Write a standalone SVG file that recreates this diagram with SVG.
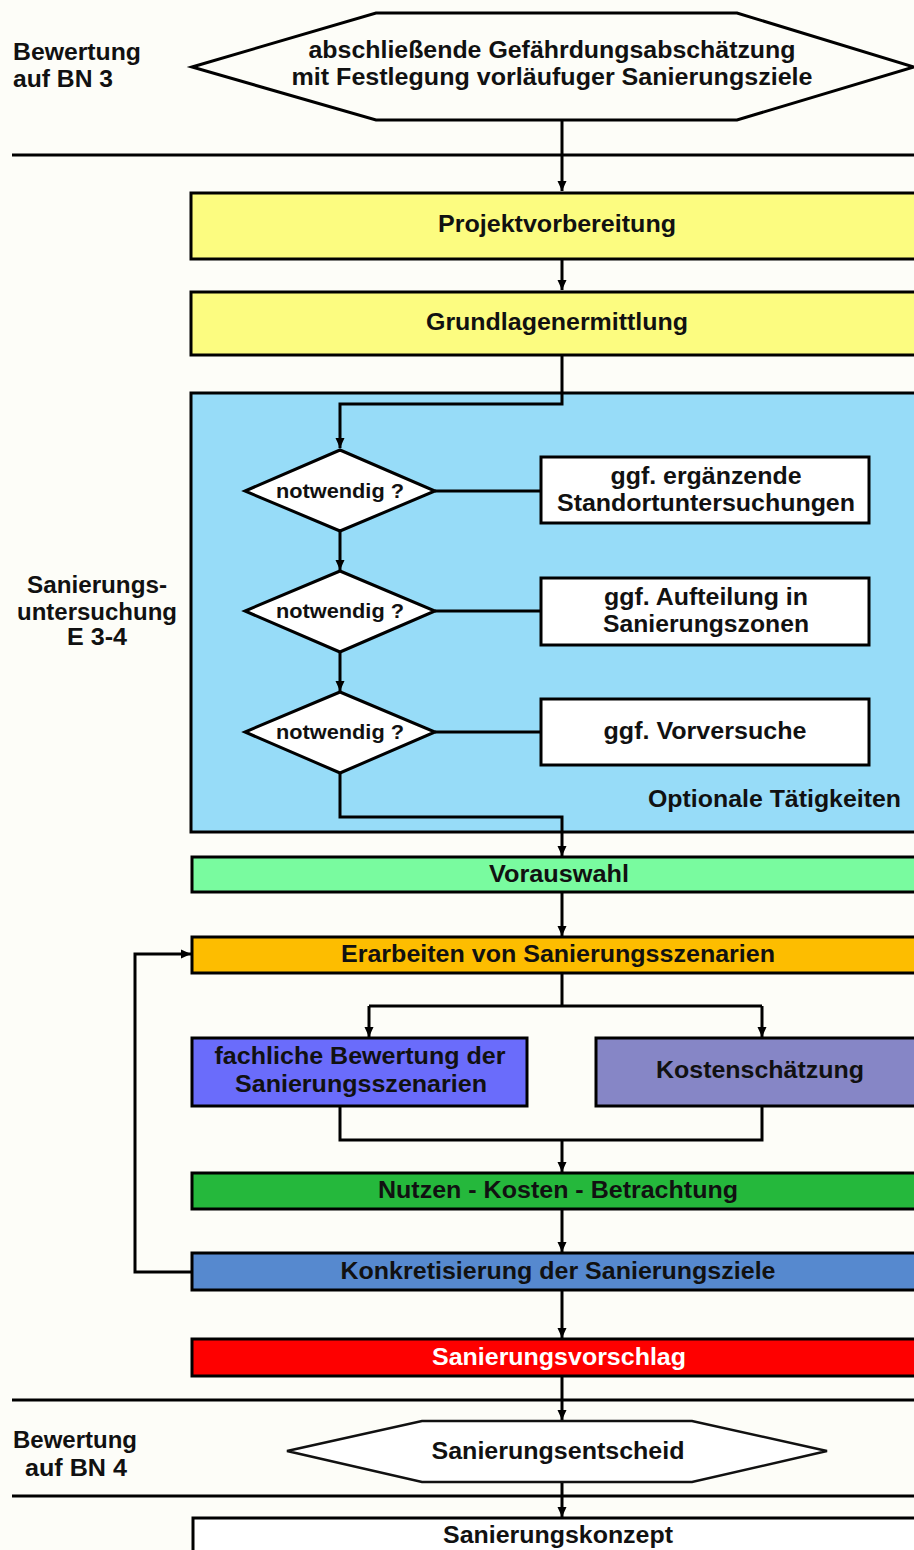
<svg xmlns="http://www.w3.org/2000/svg" width="914" height="1550" viewBox="0 0 914 1550">
  <defs>
    <marker id="arrow" markerUnits="userSpaceOnUse" markerWidth="11" markerHeight="10" refX="10" refY="5" orient="auto">
      <path d="M0,0.5 L10,5 L0,9.5 z" fill="#000"/>
    </marker>
    <style>
      text { font-family: "Liberation Sans", Arial, sans-serif; font-weight: bold; fill: #111; }
      .t { font-size: 23px; }
      .c { text-anchor: middle; }
      .q { font-size: 20px; }
      .box { stroke: #000; stroke-width: 3; }
      .sep { stroke: #000; stroke-width: 3; fill: none; }
      .conn { stroke: #000; stroke-width: 3; fill: none; }
    </style>
  </defs>

  <rect x="0" y="0" width="914" height="1550" fill="#fdfdf8"/>

  <!-- phase separators -->
  <g id="separators">
    <line class="sep" x1="12" y1="155" x2="914" y2="155"/>
    <line class="sep" x1="12" y1="1400" x2="914" y2="1400"/>
    <line class="sep" x1="12" y1="1496" x2="914" y2="1496"/>
  </g>

  <!-- phase labels -->
  <g id="label-bn3">
    <text class="t" x="13" y="60" textLength="128" lengthAdjust="spacingAndGlyphs">Bewertung</text>
    <text class="t" x="13" y="87" textLength="100" lengthAdjust="spacingAndGlyphs">auf BN 3</text>
  </g>
  <g id="label-e34">
    <text class="t c" x="97" y="593" textLength="140" lengthAdjust="spacingAndGlyphs">Sanierungs-</text>
    <text class="t c" x="97" y="620" textLength="160" lengthAdjust="spacingAndGlyphs">untersuchung</text>
    <text class="t c" x="97" y="645" textLength="60" lengthAdjust="spacingAndGlyphs">E 3-4</text>
  </g>
  <g id="label-bn4">
    <text class="t c" x="75" y="1448" textLength="124" lengthAdjust="spacingAndGlyphs">Bewertung</text>
    <text class="t c" x="76" y="1476" textLength="102" lengthAdjust="spacingAndGlyphs">auf BN 4</text>
  </g>

  <!-- optional activities panel -->
  <g id="panel-optional">
    <rect class="box" x="191" y="393" width="730" height="439" fill="#97dcf8"/>
    <text class="t" x="648" y="807" textLength="253" lengthAdjust="spacingAndGlyphs">Optionale Tätigkeiten</text>
  </g>

  <!-- connectors -->
  <g id="connectors" class="conn">
    <path d="M562,120 V191" marker-end="url(#arrow)"/>
    <path d="M562,259 V290" marker-end="url(#arrow)"/>
    <path d="M562,355 V404 H340 V448" marker-end="url(#arrow)"/>
    <path d="M435,491 H541"/>
    <path d="M435,611 H541"/>
    <path d="M435,732 H541"/>
    <path d="M340,531 V570" marker-end="url(#arrow)"/>
    <path d="M340,652 V691" marker-end="url(#arrow)"/>
    <path d="M340,773 V817 H562 V856" marker-end="url(#arrow)"/>
    <path d="M562,892 V936" marker-end="url(#arrow)"/>
    <path d="M562,973 V1006"/>
    <path d="M369,1006 H762"/>
    <path d="M369,1006 V1037" marker-end="url(#arrow)"/>
    <path d="M762,1006 V1037" marker-end="url(#arrow)"/>
    <path d="M340,1106 V1140 H762 V1106"/>
    <path d="M562,1140 V1172" marker-end="url(#arrow)"/>
    <path d="M562,1209 V1252" marker-end="url(#arrow)"/>
    <path d="M192,1272 H135 V954 H191" marker-end="url(#arrow)"/>
    <path d="M562,1290 V1338" marker-end="url(#arrow)"/>
    <path d="M562,1376 V1420" marker-end="url(#arrow)"/>
    <path d="M562,1482 V1517" marker-end="url(#arrow)"/>
  </g>

  <!-- nodes -->
  <g id="n-gefaehrdung">
    <polygon points="192,67 376,13 737,13 914,67 737,120 376,120" fill="#fdfdf8" stroke="#000" stroke-width="3"/>
    <text class="t c" x="552" y="58" textLength="487" lengthAdjust="spacingAndGlyphs">abschließende Gefährdungsabschätzung</text>
    <text class="t c" x="552" y="85" textLength="521" lengthAdjust="spacingAndGlyphs">mit Festlegung vorläufuger Sanierungsziele</text>
  </g>

  <g id="n-projekt">
    <rect class="box" x="191" y="193" width="730" height="66" fill="#fcfc80"/>
    <text class="t c" x="557" y="232" textLength="238" lengthAdjust="spacingAndGlyphs">Projektvorbereitung</text>
  </g>

  <g id="n-grundlagen">
    <rect class="box" x="191" y="292" width="730" height="63" fill="#fcfc80"/>
    <text class="t c" x="557" y="330" textLength="262" lengthAdjust="spacingAndGlyphs">Grundlagenermittlung</text>
  </g>

  <g id="d-notwendig-1">
    <polygon points="340,450 435,491 340,531 245,491" fill="#fff" stroke="#000" stroke-width="3"/>
    <text class="q c" x="340" y="498" textLength="128" lengthAdjust="spacingAndGlyphs">notwendig ?</text>
  </g>
  <g id="n-standort">
    <rect class="box" x="541" y="457" width="328" height="66" fill="#fff"/>
    <text class="t c" x="706" y="484" textLength="191" lengthAdjust="spacingAndGlyphs">ggf. ergänzende</text>
    <text class="t c" x="706" y="511" textLength="298" lengthAdjust="spacingAndGlyphs">Standortuntersuchungen</text>
  </g>

  <g id="d-notwendig-2">
    <polygon points="340,571 435,611 340,652 245,611" fill="#fff" stroke="#000" stroke-width="3"/>
    <text class="q c" x="340" y="618" textLength="128" lengthAdjust="spacingAndGlyphs">notwendig ?</text>
  </g>
  <g id="n-zonen">
    <rect class="box" x="541" y="578" width="328" height="67" fill="#fff"/>
    <text class="t c" x="706" y="605" textLength="204" lengthAdjust="spacingAndGlyphs">ggf. Aufteilung in</text>
    <text class="t c" x="706" y="632" textLength="206" lengthAdjust="spacingAndGlyphs">Sanierungszonen</text>
  </g>

  <g id="d-notwendig-3">
    <polygon points="340,692 435,732 340,773 245,732" fill="#fff" stroke="#000" stroke-width="3"/>
    <text class="q c" x="340" y="739" textLength="128" lengthAdjust="spacingAndGlyphs">notwendig ?</text>
  </g>
  <g id="n-vorversuche">
    <rect class="box" x="541" y="699" width="328" height="66" fill="#fff"/>
    <text class="t c" x="705" y="739" textLength="203" lengthAdjust="spacingAndGlyphs">ggf. Vorversuche</text>
  </g>

  <g id="n-vorauswahl">
    <rect class="box" x="192" y="857" width="730" height="35" fill="#79fb9f"/>
    <text class="t c" x="559" y="882" textLength="140" lengthAdjust="spacingAndGlyphs">Vorauswahl</text>
  </g>

  <g id="n-szenarien">
    <rect class="box" x="192" y="937" width="730" height="36" fill="#fdbd00"/>
    <text class="t c" x="558" y="962" textLength="434" lengthAdjust="spacingAndGlyphs">Erarbeiten von Sanierungsszenarien</text>
  </g>

  <g id="n-fachlich">
    <rect class="box" x="192" y="1038" width="335" height="68" fill="#6a6cfb"/>
    <text class="t c" x="360" y="1064" textLength="291" lengthAdjust="spacingAndGlyphs">fachliche Bewertung der</text>
    <text class="t c" x="361" y="1092" textLength="252" lengthAdjust="spacingAndGlyphs">Sanierungsszenarien</text>
  </g>

  <g id="n-kosten">
    <rect class="box" x="596" y="1038" width="330" height="68" fill="#8686c6"/>
    <text class="t c" x="760" y="1078" textLength="208" lengthAdjust="spacingAndGlyphs">Kostenschätzung</text>
  </g>

  <g id="n-nutzen">
    <rect class="box" x="192" y="1173" width="730" height="36" fill="#25b83c"/>
    <text class="t c" x="558" y="1198" textLength="360" lengthAdjust="spacingAndGlyphs">Nutzen - Kosten - Betrachtung</text>
  </g>

  <g id="n-konkretisierung">
    <rect class="box" x="192" y="1253" width="730" height="37" fill="#5689cf"/>
    <text class="t c" x="558" y="1279" textLength="435" lengthAdjust="spacingAndGlyphs">Konkretisierung der Sanierungsziele</text>
  </g>

  <g id="n-vorschlag">
    <rect class="box" x="192" y="1339" width="730" height="37" fill="#fe0000"/>
    <text class="t c" x="559" y="1365" textLength="254" lengthAdjust="spacingAndGlyphs" style="fill:#fff">Sanierungsvorschlag</text>
  </g>

  <g id="n-entscheid">
    <polygon points="287,1451 422,1421 692,1421 827,1451 692,1482 422,1482" fill="#fff" stroke="#111" stroke-width="2.5"/>
    <text class="t c" x="558" y="1459" textLength="253" lengthAdjust="spacingAndGlyphs">Sanierungsentscheid</text>
  </g>

  <g id="n-konzept">
    <rect class="box" x="193" y="1518" width="730" height="40" fill="#fff"/>
    <text class="t c" x="558" y="1543" textLength="230" lengthAdjust="spacingAndGlyphs">Sanierungskonzept</text>
  </g>
</svg>
